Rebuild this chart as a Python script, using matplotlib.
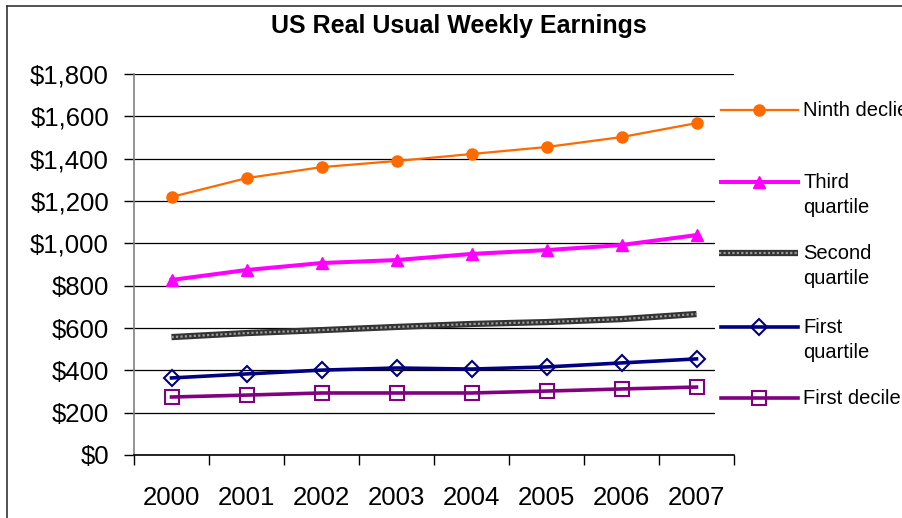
import matplotlib
matplotlib.use("Agg")
import matplotlib.pyplot as plt
from matplotlib.lines import Line2D
from matplotlib.patches import Rectangle

plt.rcParams['font.family'] = ['Liberation Sans', 'DejaVu Sans']

# === Data ===
years = ['2000', '2001', '2002', '2003', '2004', '2005', '2006', '2007']
ninth_decile = [1219, 1308, 1360, 1389, 1422, 1455, 1502, 1568]
third_quartile = [827, 874, 907, 921, 950, 968, 992, 1039]
second_quartile = [557, 576, 590, 605, 619, 628, 642, 666]
first_quartile = [364, 383, 401, 411, 406, 416, 435, 454]
first_decile = [274, 283, 293, 293, 293, 302, 312, 321]
labels = ['Ninth declie', 'Third\nquartile', 'Second\nquartile', 'First\nquartile', 'First decile']
y_ticks = [0, 200, 400, 600, 800, 1000, 1200, 1400, 1600, 1800]

W, H = 902, 518
def fx(px):
    return px / W
def fy(py):
    return 1 - py / H

fig = plt.figure(figsize=(9.02, 5.18), dpi=100)
ax = fig.add_axes([fx(134), fy(455), 600 / W, 381 / H])

x = list(range(len(years)))

styles = [
    dict(color='#FF6A00', lw=1.6, marker='o', ms=8, mfc='#FF6A00', mec='#FF6A00'),
    dict(color='#FF00FF', lw=2.9, marker='^', ms=9, mfc='#FF00FF', mec='#FF00FF'),
    None,  # second quartile drawn as hatched band
    dict(color='#000080', lw=2.6, marker='D', ms=8, mfc='none', mec='#000080', mew=1.5),
    dict(color='#800080', lw=2.6, marker='s', ms=10, mfc='none', mec='#800080', mew=1.5),
]

ax.plot(x, ninth_decile, zorder=5, **styles[0])
ax.plot(x, third_quartile, zorder=5, **styles[1])
ax.plot(x, second_quartile, color='#333333', lw=4.5, solid_capstyle='butt', zorder=4)
ax.plot(x, second_quartile, color='#9a9a9a', lw=1.6, ls=(0, (1, 1)), zorder=4)
ax.plot(x, first_quartile, zorder=5, **styles[3])
ax.plot(x, first_decile, zorder=5, **styles[4])

ax.set_xlim(-0.5, 7.5)
ax.set_ylim(0, 1800)
ax.set_yticks(y_ticks)
ax.set_yticklabels(['${:,}'.format(v) for v in y_ticks])
ax.set_xticks(x)
ax.set_xticklabels(years)
ax.set_xticks([i - 0.5 for i in range(len(years) + 1)], minor=True)
ax.tick_params(axis='x', which='major', length=0, pad=22, labelsize=18.5)
ax.tick_params(axis='x', which='minor', length=7, width=1, color='black')
ax.tick_params(axis='y', length=7, width=1, color='black', pad=11, labelsize=18.5)
ax.grid(axis='y', color='black', lw=0.9)
ax.set_axisbelow(True)
for s in ['top', 'right']:
    ax.spines[s].set_visible(False)
ax.spines['left'].set_color('#808080')
ax.spines['left'].set_linewidth(1.2)
ax.spines['bottom'].set_color('black')
ax.spines['bottom'].set_linewidth(1.2)

# title
fig.text(fx(459), fy(26), 'US Real Usual Weekly Earnings', ha='center', va='center',
         fontsize=18, fontweight='bold')

# legend area (white box over gridlines)
fig.add_artist(Rectangle((fx(715), fy(440)), 1 - fx(715), (440 - 85) / H,
                         transform=fig.transFigure, facecolor='white', edgecolor='none', zorder=2))
rows = [110, 182, 253, 327, 398]
for i, (lab, yrow) in enumerate(zip(labels, rows)):
    yy = fy(yrow)
    if styles[i] is None:
        fig.add_artist(Line2D([fx(719), fx(798)], [yy, yy], color='#333333', lw=4.5,
                              solid_capstyle='butt', transform=fig.transFigure, zorder=3))
        fig.add_artist(Line2D([fx(719), fx(798)], [yy, yy], color='#9a9a9a', lw=1.6, ls=(0, (1, 1)),
                              transform=fig.transFigure, zorder=3))
    else:
        fig.add_artist(Line2D([fx(721), fx(759), fx(798)], [yy] * 3, markevery=[1],
                              transform=fig.transFigure, zorder=3, **styles[i]))
    fig.text(fx(803), yy + 9 / H, lab, ha='left', va='top', fontsize=14.5, linespacing=1.42,
             transform=fig.transFigure, zorder=3)

# outer frame
fig.add_artist(Line2D([fx(7.5), fx(7.5)], [fy(5.5), 0], color='#333333', lw=1.2, transform=fig.transFigure))
fig.add_artist(Line2D([fx(7.5), 1], [fy(5.5), fy(5.5)], color='#333333', lw=1.2, transform=fig.transFigure))

fig.savefig('out.png', dpi=100)
